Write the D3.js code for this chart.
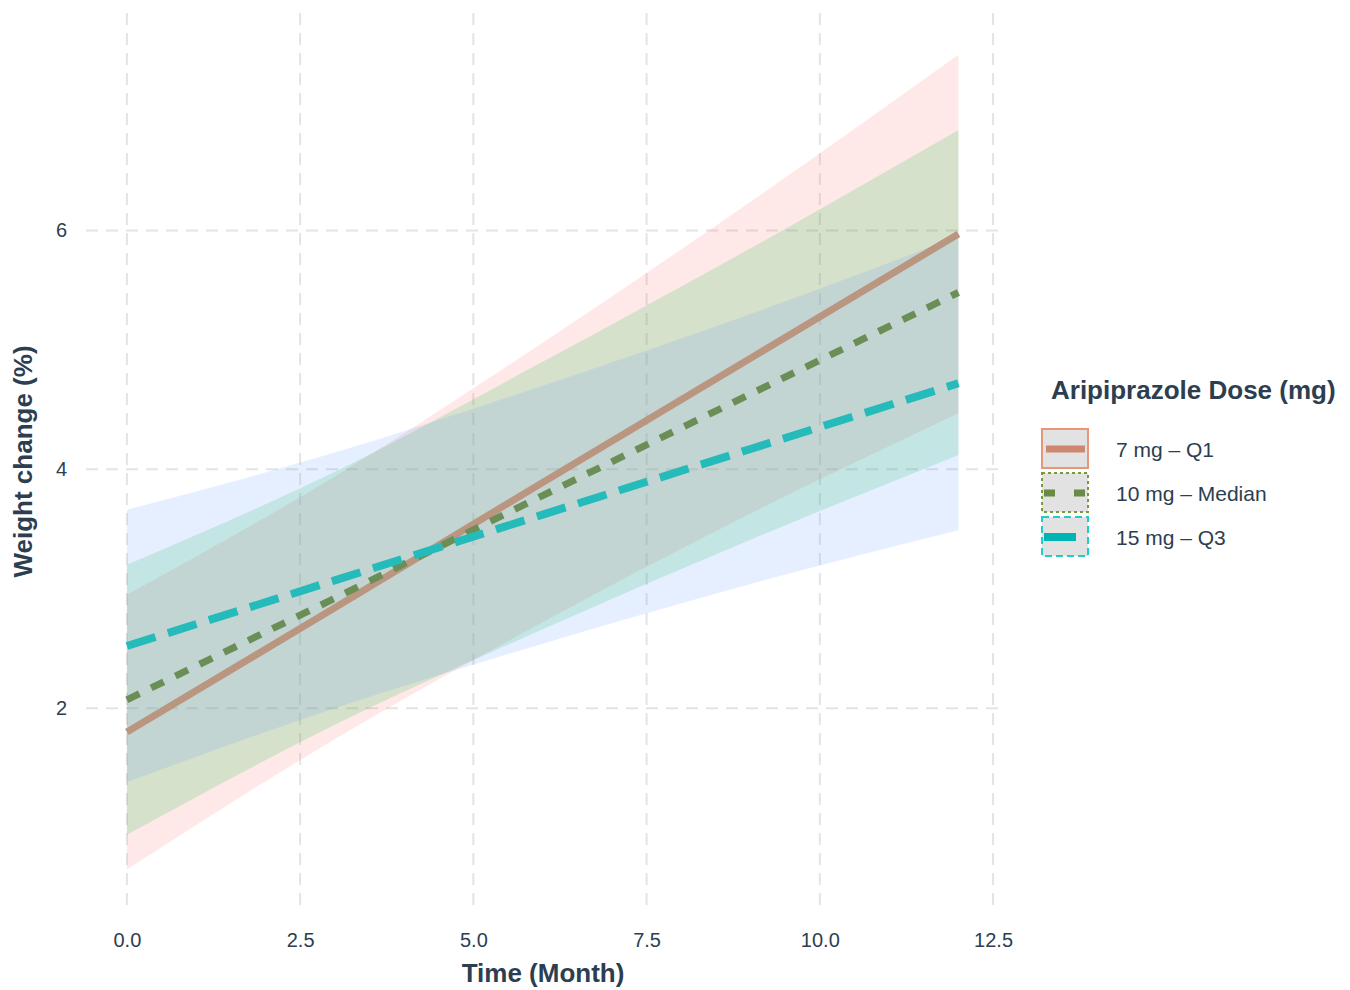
<!DOCTYPE html>
<html>
<head>
<meta charset="utf-8">
<script src="https://cdn.jsdelivr.net/npm/d3@7"></script>
<style>
  body { margin: 0; background: #fff; }
  text { font-family: "Liberation Sans", Arial, sans-serif; fill: #2c3e50; }
</style>
</head>
<body>
<div id="plot"></div>
<script>
// values
const months = [0, 3, 6, 9, 12];
const doseLabels = ["7 mg \u2013 Q1", "10 mg \u2013 Median", "15 mg \u2013 Q3"];

const fit7  = [1.80, 2.84, 3.89, 4.93, 5.97];
const low7  = [0.65, 1.74, 2.72, 3.63, 4.47];
const high7 = [2.95, 3.94, 5.06, 6.24, 7.47];

const fit10  = [2.07, 2.92, 3.78, 4.63, 5.48];
const low10  = [0.94, 1.86, 2.66, 3.41, 4.12];
const high10 = [3.20, 3.98, 4.90, 5.85, 6.84];

const fit15  = [2.52, 3.07, 3.62, 4.17, 4.72];
const low15  = [1.38, 2.00, 2.54, 3.04, 3.49];
const high15 = [3.66, 4.14, 4.70, 5.30, 5.95];

const xTicks = [0, 2.5, 5, 7.5, 10, 12.5];
const yTicks = [2, 4, 6];

const series = [
  {name: doseLabels[0], fit: fit7,  lo: low7,  hi: high7,  band: "#F8766D", line: "#BA9680", legLine: "#CD8770", box: "#E8957A", boxDash: null,  dash: null,    width: 7},
  {name: doseLabels[1], fit: fit10, lo: low10, hi: high10, band: "#00BA38", line: "#6B8E56", legLine: "#6B8A45", box: "#7A9A3A", boxDash: "3,3", dash: "14,13", width: 7},
  {name: doseLabels[2], fit: fit15, lo: low15, hi: high15, band: "#619CFF", line: "#26BBBB", legLine: "#00B4B4", box: "#22CCCC", boxDash: "7,4", dash: "30,13", width: 8}
];

const W = 1350, H = 990;
const plot = {left: 86, right: 1000, top: 13, bottom: 910};

const svg = d3.select("#plot").append("svg")
  .attr("width", W)
  .attr("height", H);

const x = d3.scaleLinear().domain([-0.59, 12.6]).range([plot.left, plot.right]);
const y = d3.scaleLinear().domain([0.31, 7.82]).range([plot.bottom, plot.top]);

// grid
const grid = svg.append("g");
grid.selectAll(".vg").data(xTicks).enter().append("line")
  .attr("x1", d => x(d)).attr("x2", d => x(d))
  .attr("y1", plot.top).attr("y2", plot.bottom)
  .attr("stroke", "#e4e4e4").attr("stroke-width", 2)
  .attr("stroke-dasharray", "12,8");
grid.selectAll(".hg").data(yTicks).enter().append("line")
  .attr("y1", d => y(d)).attr("y2", d => y(d))
  .attr("x1", plot.left).attr("x2", plot.right)
  .attr("stroke", "#e4e4e4").attr("stroke-width", 2)
  .attr("stroke-dasharray", "12,8");

// axes (labels only)
const xAxis = svg.append("g")
  .attr("transform", "translate(0," + (plot.bottom + 7) + ")")
  .call(d3.axisBottom(x).tickValues(xTicks).tickFormat(d3.format(".1f")).tickSize(0).tickPadding(16));
const yAxis = svg.append("g")
  .attr("transform", "translate(" + (plot.left - 19) + ",0)")
  .call(d3.axisLeft(y).tickValues(yTicks).tickFormat(d3.format("d")).tickSize(0).tickPadding(0));
[xAxis, yAxis].forEach(a => {
  a.select(".domain").remove();
  a.selectAll("text").attr("font-size", 20).attr("fill", "#2c3e50")
    .style("font-family", "Liberation Sans, Arial, sans-serif");
});

// bands
const area = d3.area()
  .x((d, i) => x(months[i]))
  .y0(d => y(d[0]))
  .y1(d => y(d[1]))
  .curve(d3.curveMonotoneX);

series.forEach(s => {
  svg.append("path")
    .datum(s.lo.map((v, i) => [v, s.hi[i]]))
    .attr("fill", s.band)
    .attr("fill-opacity", 0.16)
    .attr("d", area);
});

// fitted lines
const line = d3.line()
  .x((d, i) => x(months[i]))
  .y(d => y(d));

series.forEach(s => {
  svg.append("path")
    .datum(s.fit)
    .attr("fill", "none")
    .attr("stroke", s.line)
    .attr("stroke-width", s.width)
    .attr("stroke-dasharray", s.dash)
    .attr("d", line);
});

// axis titles
svg.append("text")
  .attr("x", (plot.left + plot.right) / 2)
  .attr("y", 982)
  .attr("text-anchor", "middle")
  .attr("font-size", 26)
  .attr("font-weight", "bold")
  .text("Time (Month)");

svg.append("text")
  .attr("transform", "translate(32," + ((plot.top + plot.bottom) / 2) + ") rotate(-90)")
  .attr("text-anchor", "middle")
  .attr("font-size", 26)
  .attr("font-weight", "bold")
  .text("Weight change (%)");

// legend
const leg = svg.append("g").attr("transform", "translate(1041,0)");
leg.append("text")
  .attr("x", 10).attr("y", 399)
  .attr("font-size", 26)
  .attr("font-weight", "bold")
  .text("Aripiprazole Dose (mg)");

const item = leg.selectAll(".item").data(series).enter().append("g")
  .attr("transform", (d, i) => "translate(0," + (429 + i * 44) + ")");

item.append("rect")
  .attr("x", 1).attr("y", 0).attr("width", 46).attr("height", 39)
  .attr("fill", "#e2e2e2")
  .attr("stroke", d => d.box)
  .attr("stroke-width", 2)
  .attr("stroke-dasharray", d => d.boxDash);

item.append("line")
  .attr("x1", d => d.dash ? 3 : 5)
  .attr("x2", 44)
  .attr("y1", 20).attr("y2", 20)
  .attr("stroke", d => d.legLine)
  .attr("stroke-width", d => d.width)
  .attr("stroke-dasharray", (d, i) => i === 1 ? "11,19" : (i === 2 ? "32,20" : null));

item.append("text")
  .attr("x", 75).attr("y", 28)
  .attr("font-size", 21)
  .text(d => d.name);
</script>
</body>
</html>
